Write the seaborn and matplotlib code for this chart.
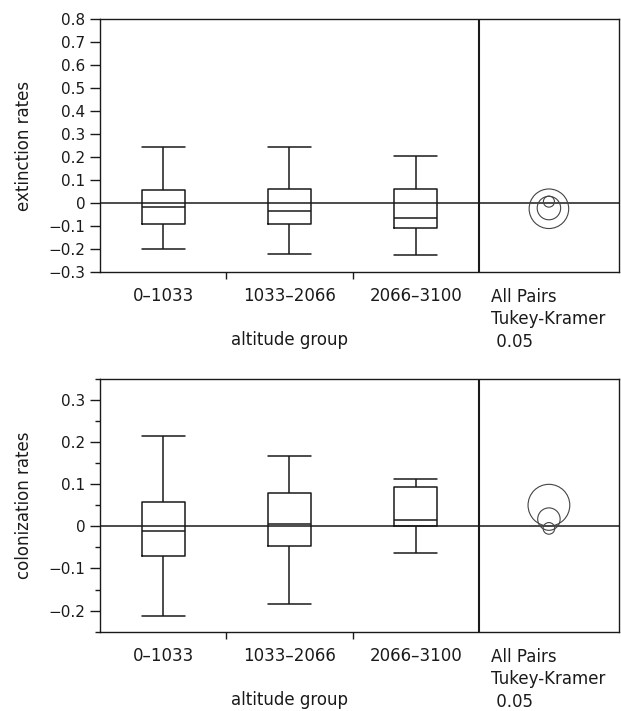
import numpy as np
import pandas as pd
import matplotlib
matplotlib.use('Agg')
import matplotlib.pyplot as plt
from matplotlib.patches import Ellipse
import seaborn as sns

# Data -----------------------------------------------------------------------
groups = ['0\u20131033', '1033\u20132066', '2066\u20133100']

# five-number summaries per box: low whisker, q1, median, q3, high whisker
ext_0_1033 = [-0.200, -0.090, -0.017, 0.055, 0.245]
ext_1033_2066 = [-0.220, -0.090, -0.035, 0.062, 0.245]
ext_2066_3100 = [-0.226, -0.110, -0.067, 0.061, 0.203]

col_0_1033 = [-0.213, -0.071, -0.010, 0.057, 0.213]
col_1033_2066 = [-0.184, -0.047, 0.006, 0.080, 0.167]
col_2066_3100 = [-0.063, 0.000, 0.016, 0.093, 0.111]

# comparison circles (centre, radius), y units
ext_circle_centres = [-0.025, -0.022, 0.006]
ext_circle_radii = [0.086, 0.051, 0.024]
col_circle_centres = [0.050, 0.017, -0.005]
col_circle_radii = [0.0495, 0.0266, 0.0138]

circle_label = 'All Pairs\nTukey-Kramer\n 0.05'

# Style ----------------------------------------------------------------------
sns.set_theme(style='ticks')
plt.rcParams['font.family'] = ['DejaVu Sans']
plt.rcParams['font.size'] = 11.5
ink = '#1a1a1a'

fig = plt.figure(figsize=(6.21, 7.11), dpi=100)
W, H = 621, 711
ax_top = fig.add_axes([100 / W, 1 - 272 / H, 519 / W, 253 / H])
ax_bot = fig.add_axes([100 / W, 1 - 631.7 / H, 519 / W, 253 / H])

xlim = (-0.5, 3.61)
circle_x = 3.055


def to_long(summaries):
    rows = []
    for g, vals in zip(groups, summaries):
        for v in vals:
            rows.append((g, v))
    return pd.DataFrame(rows, columns=['group', 'value'])


def draw_panel(ax, summaries, centres, radii, ylabel, ylim, major, minor=None):
    df = to_long(summaries)
    sns.boxplot(data=df, x='group', y='value', order=groups, ax=ax,
                width=0.34, whis=(0, 100), fill=False, color=ink,
                linewidth=1.1, showfliers=False, capwidths=0.34)
    ax.set_xlim(*xlim)
    ax.set_ylim(*ylim)

    ax.axhline(0, color=ink, lw=1.1, zorder=1)
    ax.axvline(2.5, color=ink, lw=1.5)

    # comparison circles, kept round on screen
    bb = ax.get_position()
    px_w = bb.width * W
    px_h = bb.height * H
    ratio = ((xlim[1] - xlim[0]) / px_w) / ((ylim[1] - ylim[0]) / px_h)
    for c, r in zip(centres, radii):
        ax.add_patch(Ellipse((circle_x, c), width=2 * r * ratio, height=2 * r,
                             fill=False, ec='#444444', lw=0.8))

    # y axis
    ax.set_yticks(major)
    ax.set_yticklabels(['0' if abs(v) < 1e-9 else f'{v:.1f}'.replace('-', '\u2212')
                        for v in major])
    if minor is not None:
        ax.set_yticks(minor, minor=True)
    ax.tick_params(axis='y', which='major', length=7, width=1.0, pad=3.5,
                   color=ink, labelcolor=ink, labelsize=11)
    ax.tick_params(axis='y', which='minor', length=3.5, width=1.0, color=ink, left=True)
    ax.set_ylabel(ylabel, color=ink)
    ax.yaxis.set_label_coords(-0.13, 0.5)

    # x axis: separators as ticks, group names as unticked labels
    ax.set_xticks([0.5, 1.5])
    ax.set_xticklabels(['', ''])
    ax.set_xticks([0, 1, 2], minor=True)
    ax.set_xticklabels(groups, minor=True)
    ax.tick_params(axis='x', which='major', length=5, width=1.0, color=ink)
    ax.tick_params(axis='x', which='minor', length=0, pad=11, labelcolor=ink,
                   labelsize=12, bottom=True)
    ax.set_xlabel('altitude group', color=ink)
    ax.xaxis.set_label_coords(0.365, -0.235)

    ax.text(2.593, -0.063, circle_label, transform=ax.get_xaxis_transform(),
            ha='left', va='top', color=ink, linespacing=1.32, fontsize=12)

    for s in ax.spines.values():
        s.set_visible(True)
        s.set_color(ink)
        s.set_linewidth(1.0)


draw_panel(ax_top, [ext_0_1033, ext_1033_2066, ext_2066_3100],
           ext_circle_centres, ext_circle_radii, 'extinction rates',
           (-0.3, 0.8), np.round(np.arange(-0.3, 0.81, 0.1), 1))

draw_panel(ax_bot, [col_0_1033, col_1033_2066, col_2066_3100],
           col_circle_centres, col_circle_radii, 'colonization rates',
           (-0.25, 0.35), np.round(np.arange(-0.2, 0.31, 0.1), 1),
           minor=np.round(np.arange(-0.25, 0.36, 0.1), 2))

fig.savefig('out.png', dpi=100)
